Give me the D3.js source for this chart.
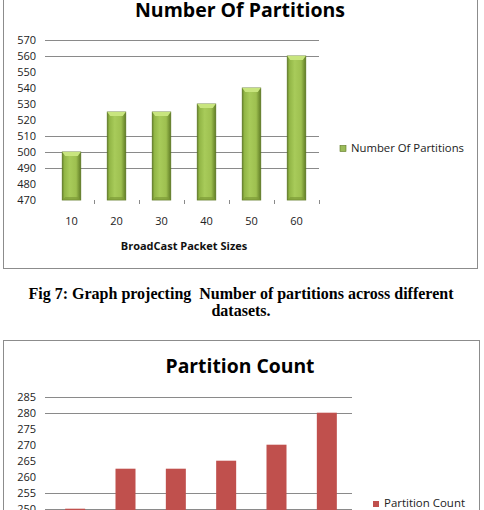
<!DOCTYPE html>
<html>
<head>
<meta charset="utf-8">
<script src="https://cdn.jsdelivr.net/npm/d3@7"></script>
<style>
  html, body { margin: 0; padding: 0; background: #ffffff; }
  svg { display: block; }
</style>
</head>
<body>
<div id="chart"></div>
<script>
// data
const packetSizes = [10, 20, 30, 40, 50, 60];
const numberOfPartitions = [500, 525, 525, 530, 540, 560];
const partitionCount = [250, 262.5, 262.5, 265, 270, 280];

const topTicks = [470, 480, 490, 500, 510, 520, 530, 540, 550, 560, 570];
const topGrid = [490, 500, 510, 560, 570];
const bottomTicks = [235, 240, 245, 250, 255, 260, 265, 270, 275, 280, 285];
const bottomGrid = [250, 255, 280, 285];

const captionLines = [
  'Fig 7: Graph projecting  Number of partitions across different',
  'datasets.'
];

const W = 484, H = 510;
const svg = d3.select('#chart').append('svg')
  .attr('width', W).attr('height', H)
  .attr('viewBox', `0 0 ${W} ${H}`);

const defs = svg.append('defs');
const green = defs.append('linearGradient').attr('id', 'greenBar')
  .attr('x1', '0%').attr('x2', '100%').attr('y1', '0%').attr('y2', '0%');
[['0%', '#6a862c'], ['12%', '#92b646'], ['40%', '#a8cb5a'], ['75%', '#9ec050'], ['100%', '#617d26']]
  .forEach(s => green.append('stop').attr('offset', s[0]).attr('stop-color', s[1]));

const font = "'Open Sans', 'DejaVu Sans', sans-serif";

function drawChart(cfg) {
  const g = svg.append('g');

  // outer frame
  g.append('rect')
    .attr('x', cfg.frame[0] + 0.5).attr('y', cfg.frame[1] + 0.5)
    .attr('width', cfg.frame[2] - cfg.frame[0]).attr('height', cfg.frame[3] - cfg.frame[1])
    .attr('fill', 'none').attr('stroke', '#8c8c8c').attr('stroke-width', 1);

  const x = d3.scaleBand().domain(packetSizes).range(cfg.xRange).paddingInner(0);
  const y = d3.scaleLinear().domain(cfg.yDomain).range(cfg.yRange);

  // gridlines
  g.append('g').selectAll('line').data(cfg.grid).join('line')
    .attr('x1', cfg.gridX[0]).attr('x2', cfg.gridX[1])
    .attr('y1', d => Math.round(y(d)) + 0.5).attr('y2', d => Math.round(y(d)) + 0.5)
    .attr('stroke', '#8a8a8a').attr('stroke-width', 1);

  // y axis labels
  const yAxis = d3.axisLeft(y).tickValues(cfg.ticks).tickSize(0).tickPadding(0);
  g.append('g').attr('transform', `translate(${cfg.labelX},0)`)
    .call(yAxis)
    .call(a => {
      a.select('.domain').remove();
      a.selectAll('.tick text')
        .attr('fill', '#222').attr('font-family', font).attr('font-size', '11px');
    });

  // bars
  const bw = cfg.barWidth;
  const bars = g.append('g').selectAll('g').data(cfg.values.map((v, i) => ({ k: packetSizes[i], v })))
    .join('g');

  if (cfg.style === 'green') {
    bars.append('rect')
      .attr('x', d => x(d.k) + x.bandwidth() / 2 - bw / 2)
      .attr('y', d => y(d.v))
      .attr('width', bw)
      .attr('height', d => y(cfg.yDomain[0]) - y(d.v))
      .attr('fill', 'url(#greenBar)')
      .attr('stroke', '#5a7520').attr('stroke-width', 0.8);
    // top bevel
    bars.append('path')
      .attr('d', d => {
        const x0 = x(d.k) + x.bandwidth() / 2 - bw / 2, y0 = y(d.v);
        return `M${x0},${y0} L${x0 + bw},${y0} L${x0 + bw - 3},${y0 + 4} L${x0 + 3},${y0 + 4} Z`;
      })
      .attr('fill', '#c8e57e');
    // bottom bevel
    bars.append('path')
      .attr('d', d => {
        const x0 = x(d.k) + x.bandwidth() / 2 - bw / 2, y0 = y(cfg.yDomain[0]);
        return `M${x0},${y0} L${x0 + bw},${y0} L${x0 + bw - 3},${y0 - 3} L${x0 + 3},${y0 - 3} Z`;
      })
      .attr('fill', '#7d9b38').attr('opacity', 0.7);
  } else {
    bars.append('rect')
      .attr('x', d => x(d.k) + x.bandwidth() / 2 - bw / 2)
      .attr('y', d => y(d.v))
      .attr('width', bw)
      .attr('height', d => y(cfg.yDomain[0]) - y(d.v))
      .attr('fill', '#c0504d');
  }

  // x axis ticks + labels
  if (cfg.showX) {
    const base = y(cfg.yDomain[0]);
    const xAxis = d3.axisBottom(x).tickSize(0).tickPadding(17);
    g.append('g').attr('transform', `translate(0,${base})`)
      .call(xAxis)
      .call(a => {
        a.select('.domain').remove();
        a.selectAll('.tick text')
          .attr('fill', '#222').attr('font-family', font).attr('font-size', '11px');
      });
    const edges = packetSizes.map(k => x(k)).concat([cfg.xRange[1]]).slice(1);
    g.append('g').selectAll('line').data(edges).join('line')
      .attr('x1', d => Math.round(d) + 0.5).attr('x2', d => Math.round(d) + 0.5)
      .attr('y1', base).attr('y2', base + 4)
      .attr('stroke', '#8a8a8a');
    g.append('text')
      .attr('x', 184).attr('y', 250)
      .attr('text-anchor', 'middle')
      .attr('font-family', font).attr('font-weight', 700).attr('font-size', '11px')
      .attr('fill', '#111')
      .text(cfg.xTitle);
  }

  // title
  g.append('text')
    .attr('x', 240).attr('y', cfg.titleY)
    .attr('text-anchor', 'middle')
    .attr('font-family', font).attr('font-weight', 700).attr('font-size', '19.5px')
    .attr('fill', '#000')
    .attr('textLength', cfg.titleLen).attr('lengthAdjust', 'spacingAndGlyphs')
    .text(cfg.title);

  // legend
  const lg = g.append('g').attr('transform', `translate(${cfg.legend[0]},${cfg.legend[1]})`);
  lg.append('rect').attr('x', 0).attr('y', -6).attr('width', 6).attr('height', 6)
    .attr('fill', cfg.style === 'green' ? '#9bbb59' : '#c0504d')
    .attr('stroke', cfg.style === 'green' ? '#5a7520' : 'none').attr('stroke-width', 0.6);
  lg.append('text').attr('x', 11).attr('y', 0)
    .attr('font-family', font).attr('font-size', '11px').attr('fill', '#222')
    .attr('textLength', cfg.legendLen).attr('lengthAdjust', 'spacingAndGlyphs')
    .text(cfg.legendText);
}

drawChart({
  frame: [3, -2, 477, 268],
  xRange: [49, 319],
  gridX: [45, 319],
  yDomain: [470, 570],
  yRange: [200, 40],
  ticks: topTicks,
  grid: topGrid,
  labelX: 36,
  values: numberOfPartitions,
  barWidth: 18.5,
  style: 'green',
  showX: true,
  xTitle: 'BroadCast Packet Sizes',
  title: 'Number Of Partitions',
  titleY: 17,
  titleLen: 210,
  legend: [340, 151.5],
  legendText: 'Number Of Partitions',
  legendLen: 113
});

drawChart({
  frame: [3, 340, 479, 520],
  xRange: [50, 352],
  gridX: [45, 352],
  yDomain: [235, 285],
  yRange: [556.7, 396.7],
  ticks: bottomTicks,
  grid: bottomGrid,
  labelX: 36,
  values: partitionCount,
  barWidth: 20,
  style: 'red',
  showX: false,
  title: 'Partition Count',
  titleY: 373,
  titleLen: 149,
  legend: [373, 507],
  legendText: 'Partition Count',
  legendLen: 81
});

// figure caption between the two charts
svg.append('g').selectAll('text').data(captionLines).join('text')
  .attr('x', 241).attr('y', (d, i) => 299 + i * 17)
  .attr('text-anchor', 'middle')
  .attr('font-family', "'Liberation Serif', 'Times New Roman', serif")
  .attr('font-weight', 700).attr('font-size', '16px')
  .attr('fill', '#000')
  .attr('xml:space', 'preserve')
  .style('white-space', 'pre')
  .text(d => d);
</script>
</body>
</html>
